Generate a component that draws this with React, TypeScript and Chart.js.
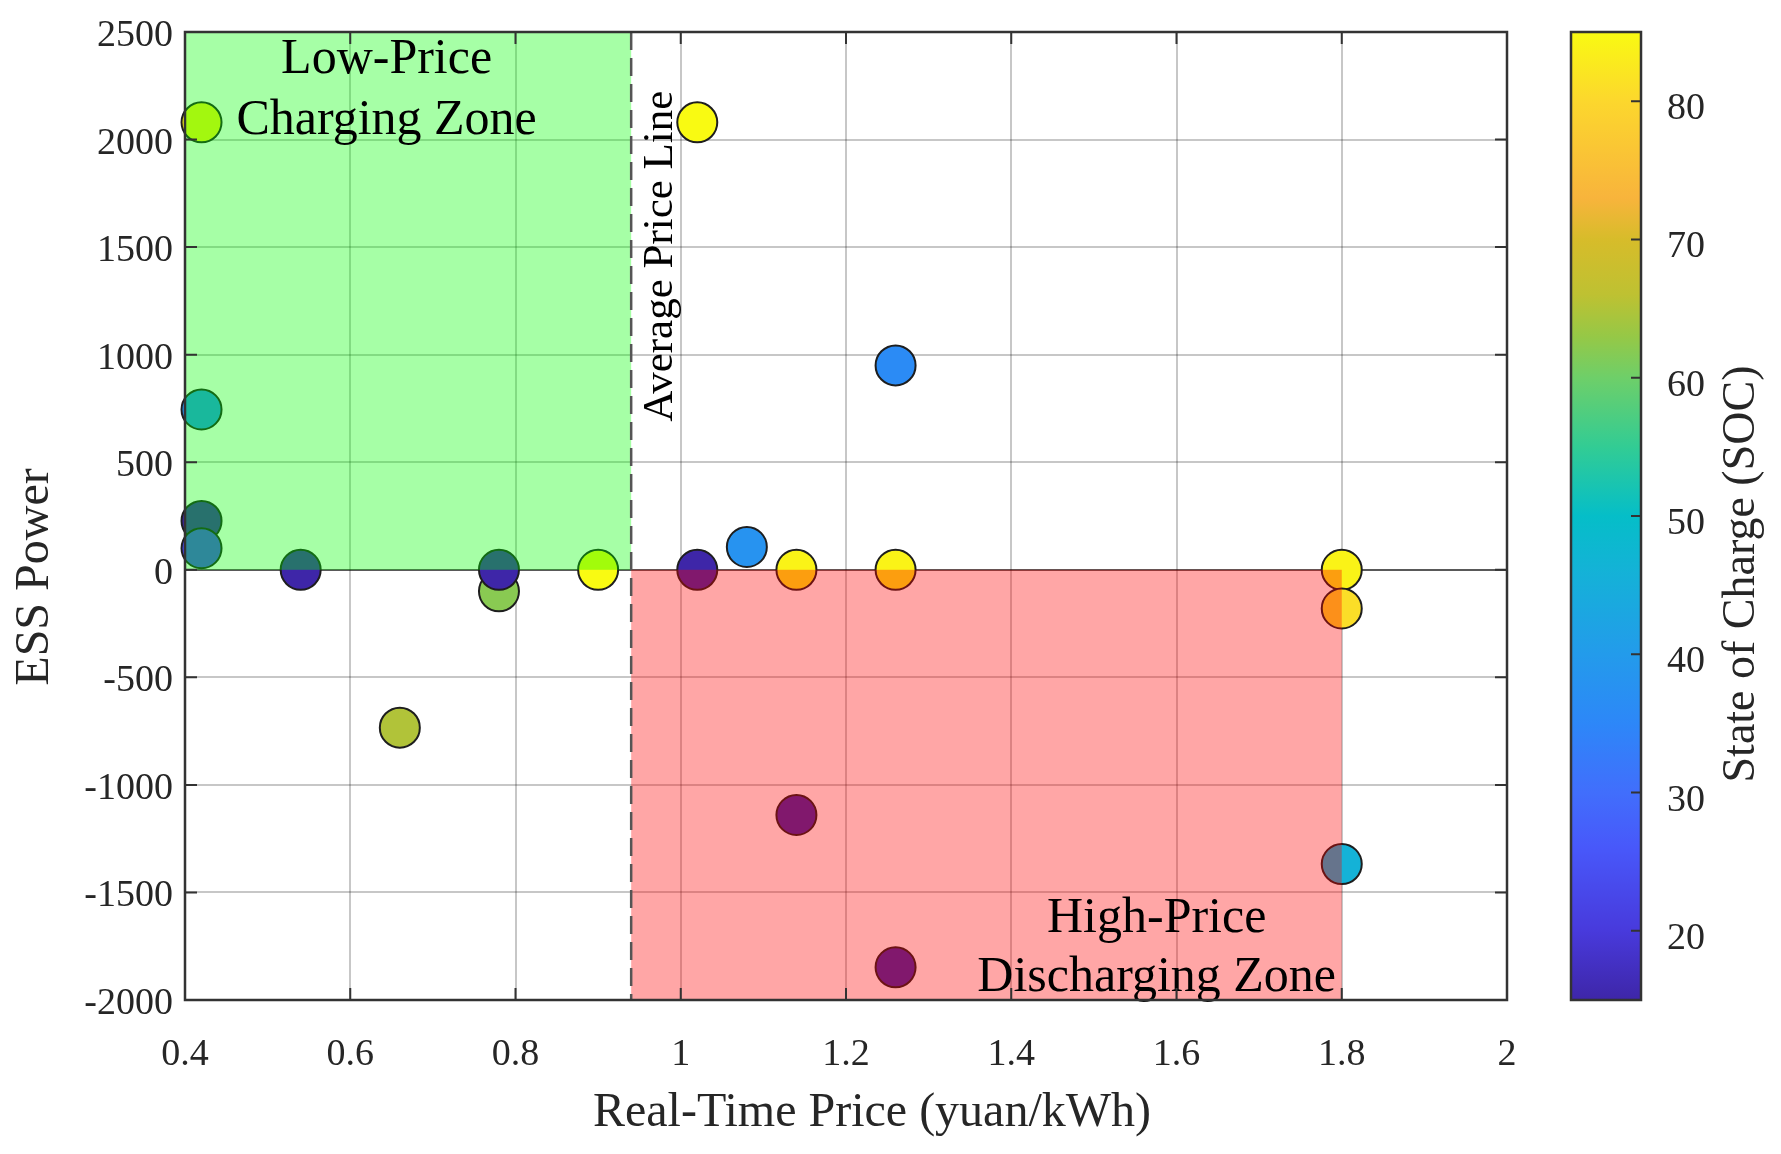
import React, { useEffect, useRef } from "react";
import { Chart, registerables } from "chart.js";
import type { Plugin } from "chart.js";

Chart.register(...registerables);

// ESS operating points: price (yuan/kWh), power, state of charge (%)
const priceValues = [
  0.42, 0.42, 0.42, 0.42, 0.54, 0.66, 0.78, 0.78, 0.9, 1.02,
  1.02, 1.08, 1.14, 1.14, 1.26, 1.26, 1.26, 1.8, 1.8, 1.8,
];
const powerValues = [
  2080, 745, 227, 100, 0, -734, -100, 0, 0, 2080,
  0, 106, 0, -1140, 950, 0, -1848, 0, -180, -1368,
];
const socValues = [
  84, 38, 15, 23, 15, 65, 62, 15, 85, 85,
  15, 38, 84, 15, 36, 84, 15, 84, 81, 46,
];

const PRICE_MIN = 0.4;
const PRICE_MAX = 2;
const PRICE_STEP = 0.2;
const POWER_MIN = -2000;
const POWER_MAX = 2500;
const POWER_STEP = 500;
const SOC_MIN = 15;
const SOC_MAX = 85;
const socTickValues = [20, 30, 40, 50, 60, 70, 80];

const AVG_PRICE = 0.94;
const PEAK_PRICE = 1.8;

const zoneTexts = [
  { text: "Low-Price", price: 0.644, power: 2309 },
  { text: "Charging Zone", price: 0.644, power: 2025 },
  { text: "High-Price", price: 1.576, power: -1684 },
  { text: "Discharging Zone", price: 1.576, power: -1959 },
];
const avgLabel = { text: "Average Price Line", price: 0.99, power: 1458 };

const X_TITLE = "Real-Time Price (yuan/kWh)";
const Y_TITLE = "ESS Power";
const CBAR_TITLE = "State of Charge (SOC)";

// parula-like colour stops
const colorStops: [number, number[]][] = [
  [15, [62, 38, 168]],
  [20, [72, 58, 220]],
  [26, [72, 88, 250]],
  [30, [65, 110, 252]],
  [35, [45, 135, 248]],
  [40, [35, 155, 235]],
  [46, [20, 178, 215]],
  [50, [5, 190, 200]],
  [55, [50, 204, 148]],
  [60, [110, 207, 105]],
  [63, [150, 200, 70]],
  [66, [190, 193, 50]],
  [70, [215, 188, 42]],
  [73, [248, 180, 60]],
  [80, [252, 215, 45]],
  [85, [249, 250, 18]],
];

const socColor = (soc: number) => {
  for (let i = 1; i < colorStops.length; i++) {
    const [s1, c1] = colorStops[i];
    const [s0, c0] = colorStops[i - 1];
    if (soc <= s1) {
      const t = Math.max(0, (soc - s0) / (s1 - s0));
      const c = c0.map((v, k) => Math.round(v + (c1[k] - v) * t));
      return `rgb(${c[0]},${c[1]},${c[2]})`;
    }
  }
  const c = colorStops[colorStops.length - 1][1];
  return `rgb(${c[0]},${c[1]},${c[2]})`;
};

const FONT = "'Liberation Serif', 'Times New Roman', serif";
const INK = "#262626";
const FRAME = "#333";

// keep tick labels from pushing the plot area around
const noScalePadding = (s: any) => {
  s.paddingLeft = 0;
  s.paddingRight = 0;
  s.paddingTop = 0;
  s.paddingBottom = 0;
};

const zonesPlugin: Plugin<"scatter"> = {
  id: "zones",
  afterDatasetsDraw(chart) {
    const { ctx, chartArea, scales } = chart;
    const x = scales.x;
    const y = scales.y;
    const x0 = x.getPixelForValue(PRICE_MIN);
    const xa = x.getPixelForValue(AVG_PRICE);
    const xp = x.getPixelForValue(PEAK_PRICE);
    const y0 = y.getPixelForValue(0);
    ctx.save();
    ctx.fillStyle = "rgba(0,255,0,0.35)";
    ctx.fillRect(x0, y.getPixelForValue(POWER_MAX), xa - x0, y0 - y.getPixelForValue(POWER_MAX));
    ctx.fillStyle = "rgba(255,0,0,0.35)";
    ctx.fillRect(xa, y0, xp - xa, y.getPixelForValue(POWER_MIN) - y0);

    // average price line
    ctx.strokeStyle = "#555";
    ctx.lineWidth = 2.5;
    ctx.setLineDash([18, 8]);
    ctx.beginPath();
    ctx.moveTo(xa, chartArea.top);
    ctx.lineTo(xa, chartArea.bottom);
    ctx.stroke();
    ctx.setLineDash([]);

    ctx.fillStyle = "#000";
    ctx.textAlign = "center";
    ctx.textBaseline = "alphabetic";
    ctx.font = `50px ${FONT}`;
    zoneTexts.forEach((z) => {
      ctx.fillText(z.text, x.getPixelForValue(z.price), y.getPixelForValue(z.power));
    });

    ctx.save();
    ctx.translate(x.getPixelForValue(avgLabel.price), y.getPixelForValue(avgLabel.power));
    ctx.rotate(-Math.PI / 2);
    ctx.font = `43px ${FONT}`;
    ctx.fillText(avgLabel.text, 0, 0);
    ctx.restore();

    // frame with inward ticks
    ctx.strokeStyle = FRAME;
    ctx.lineWidth = 2;
    ctx.beginPath();
    x.ticks.forEach((t) => {
      const px = x.getPixelForValue(t.value);
      ctx.moveTo(px, chartArea.bottom);
      ctx.lineTo(px, chartArea.bottom - 12);
      ctx.moveTo(px, chartArea.top);
      ctx.lineTo(px, chartArea.top + 12);
    });
    y.ticks.forEach((t) => {
      const py = y.getPixelForValue(t.value);
      ctx.moveTo(chartArea.left, py);
      ctx.lineTo(chartArea.left + 12, py);
      ctx.moveTo(chartArea.right, py);
      ctx.lineTo(chartArea.right - 12, py);
    });
    ctx.stroke();
    ctx.lineWidth = 2.5;
    ctx.strokeRect(chartArea.left, chartArea.top, chartArea.right - chartArea.left, chartArea.bottom - chartArea.top);

    // axis titles
    ctx.fillStyle = INK;
    ctx.font = `48px ${FONT}`;
    ctx.textBaseline = "middle";
    ctx.fillText(X_TITLE, (chartArea.left + chartArea.right) / 2 + 26, chartArea.bottom + 113);
    ctx.translate(35, (chartArea.top + chartArea.bottom) / 2 + 61);
    ctx.rotate(-Math.PI / 2);
    ctx.fillText(Y_TITLE, 0, 0);
    ctx.restore();
  },
};

const colorbarPlugin: Plugin<"bar"> = {
  id: "colorbarFrame",
  afterDraw(chart) {
    const { ctx, chartArea, scales } = chart;
    const y = scales.y;
    ctx.save();
    ctx.strokeStyle = FRAME;
    ctx.lineWidth = 2;
    ctx.beginPath();
    y.ticks.forEach((t) => {
      const py = y.getPixelForValue(t.value);
      ctx.moveTo(chartArea.right, py);
      ctx.lineTo(chartArea.right - 10, py);
    });
    ctx.stroke();
    ctx.lineWidth = 2.5;
    ctx.strokeRect(chartArea.left, chartArea.top, chartArea.right - chartArea.left, chartArea.bottom - chartArea.top);

    ctx.fillStyle = INK;
    ctx.font = `46px ${FONT}`;
    ctx.textAlign = "center";
    ctx.textBaseline = "middle";
    ctx.translate(202, (chartArea.top + chartArea.bottom) / 2 + 58);
    ctx.rotate(-Math.PI / 2);
    ctx.fillText(CBAR_TITLE, 0, 0);
    ctx.restore();
  },
};

const App: React.FC = () => {
  const mainRef = useRef<HTMLCanvasElement | null>(null);
  const barRef = useRef<HTMLCanvasElement | null>(null);

  useEffect(() => {
    if (!mainRef.current || !barRef.current) return;

    const points = priceValues.map((p, i) => ({ x: p, y: powerValues[i] }));

    const main = new Chart(mainRef.current, {
      type: "scatter",
      data: {
        datasets: [
          {
            label: "ESS",
            data: points,
            backgroundColor: socValues.map(socColor),
            borderColor: "#1e1e1e",
            borderWidth: 2,
            pointRadius: 20,
            pointHoverRadius: 20,
            clip: false,
          },
        ],
      },
      options: {
        responsive: false,
        animation: false,
        devicePixelRatio: 1,
        events: [],
        layout: { padding: { top: 32, right: 33, left: 0, bottom: 0 } },
        plugins: { legend: { display: false }, tooltip: { enabled: false } },
        scales: {
          x: {
            type: "linear",
            min: PRICE_MIN,
            max: PRICE_MAX,
            afterFit: (s) => {
              s.height = 154;
              noScalePadding(s);
            },
            border: { display: false },
            grid: { color: "rgba(0,0,0,0.22)", lineWidth: 2, drawTicks: false },
            ticks: {
              stepSize: PRICE_STEP,
              padding: 32,
              color: INK,
              font: { family: FONT, size: 38 },
              callback: (v) => String(Number(Number(v).toFixed(1))),
            },
          },
          y: {
            type: "linear",
            min: POWER_MIN,
            max: POWER_MAX,
            afterFit: (s) => {
              s.width = 185;
              noScalePadding(s);
            },
            border: { display: false },
            grid: {
              color: (c) => (c.tick && c.tick.value === 0 ? "rgba(0,0,0,0.65)" : "rgba(0,0,0,0.22)"),
              lineWidth: 2,
              drawTicks: false,
            },
            ticks: {
              stepSize: POWER_STEP,
              padding: 12,
              labelOffset: 4,
              color: INK,
              font: { family: FONT, size: 38 },
              callback: (v) => String(v),
            },
          },
        },
      },
      plugins: [zonesPlugin],
    });

    const bar = new Chart(barRef.current, {
      type: "bar",
      data: {
        labels: ["SOC"],
        datasets: [
          {
            label: "SOC",
            data: [[SOC_MIN, SOC_MAX]],
            barPercentage: 1,
            categoryPercentage: 1,
            borderWidth: 0,
            backgroundColor: (c) => {
              const ch = c.chart;
              const area = ch.chartArea;
              if (!area) return "#888";
              const g = ch.ctx.createLinearGradient(0, area.bottom, 0, area.top);
              colorStops.forEach(([s, col]) => {
                g.addColorStop((s - SOC_MIN) / (SOC_MAX - SOC_MIN), `rgb(${col[0]},${col[1]},${col[2]})`);
              });
              return g;
            },
          },
        ],
      },
      options: {
        responsive: false,
        animation: false,
        devicePixelRatio: 1,
        events: [],
        layout: { padding: { top: 32, right: 0, left: 31, bottom: 154 } },
        plugins: { legend: { display: false }, tooltip: { enabled: false } },
        scales: {
          x: { display: false },
          y: {
            position: "right",
            min: SOC_MIN,
            max: SOC_MAX,
            afterBuildTicks: (s) => {
              s.ticks = socTickValues.map((v) => ({ value: v }));
            },
            afterFit: (s) => {
              s.width = 140;
              noScalePadding(s);
            },
            border: { display: false },
            grid: { drawOnChartArea: false, drawTicks: false },
            ticks: {
              padding: 26,
              labelOffset: 8,
              color: INK,
              font: { family: FONT, size: 38 },
            },
          },
        },
      },
      plugins: [colorbarPlugin],
    });

    return () => {
      main.destroy();
      bar.destroy();
    };
  }, []);

  return (
    <div style={{ position: "absolute", left: 0, top: 0, width: 1781, height: 1154, background: "#fff" }}>
      <canvas ref={mainRef} width={1540} height={1154} style={{ position: "absolute", left: 0, top: 0 }} />
      <canvas ref={barRef} width={241} height={1154} style={{ position: "absolute", left: 1540, top: 0 }} />
    </div>
  );
};

export default App;
